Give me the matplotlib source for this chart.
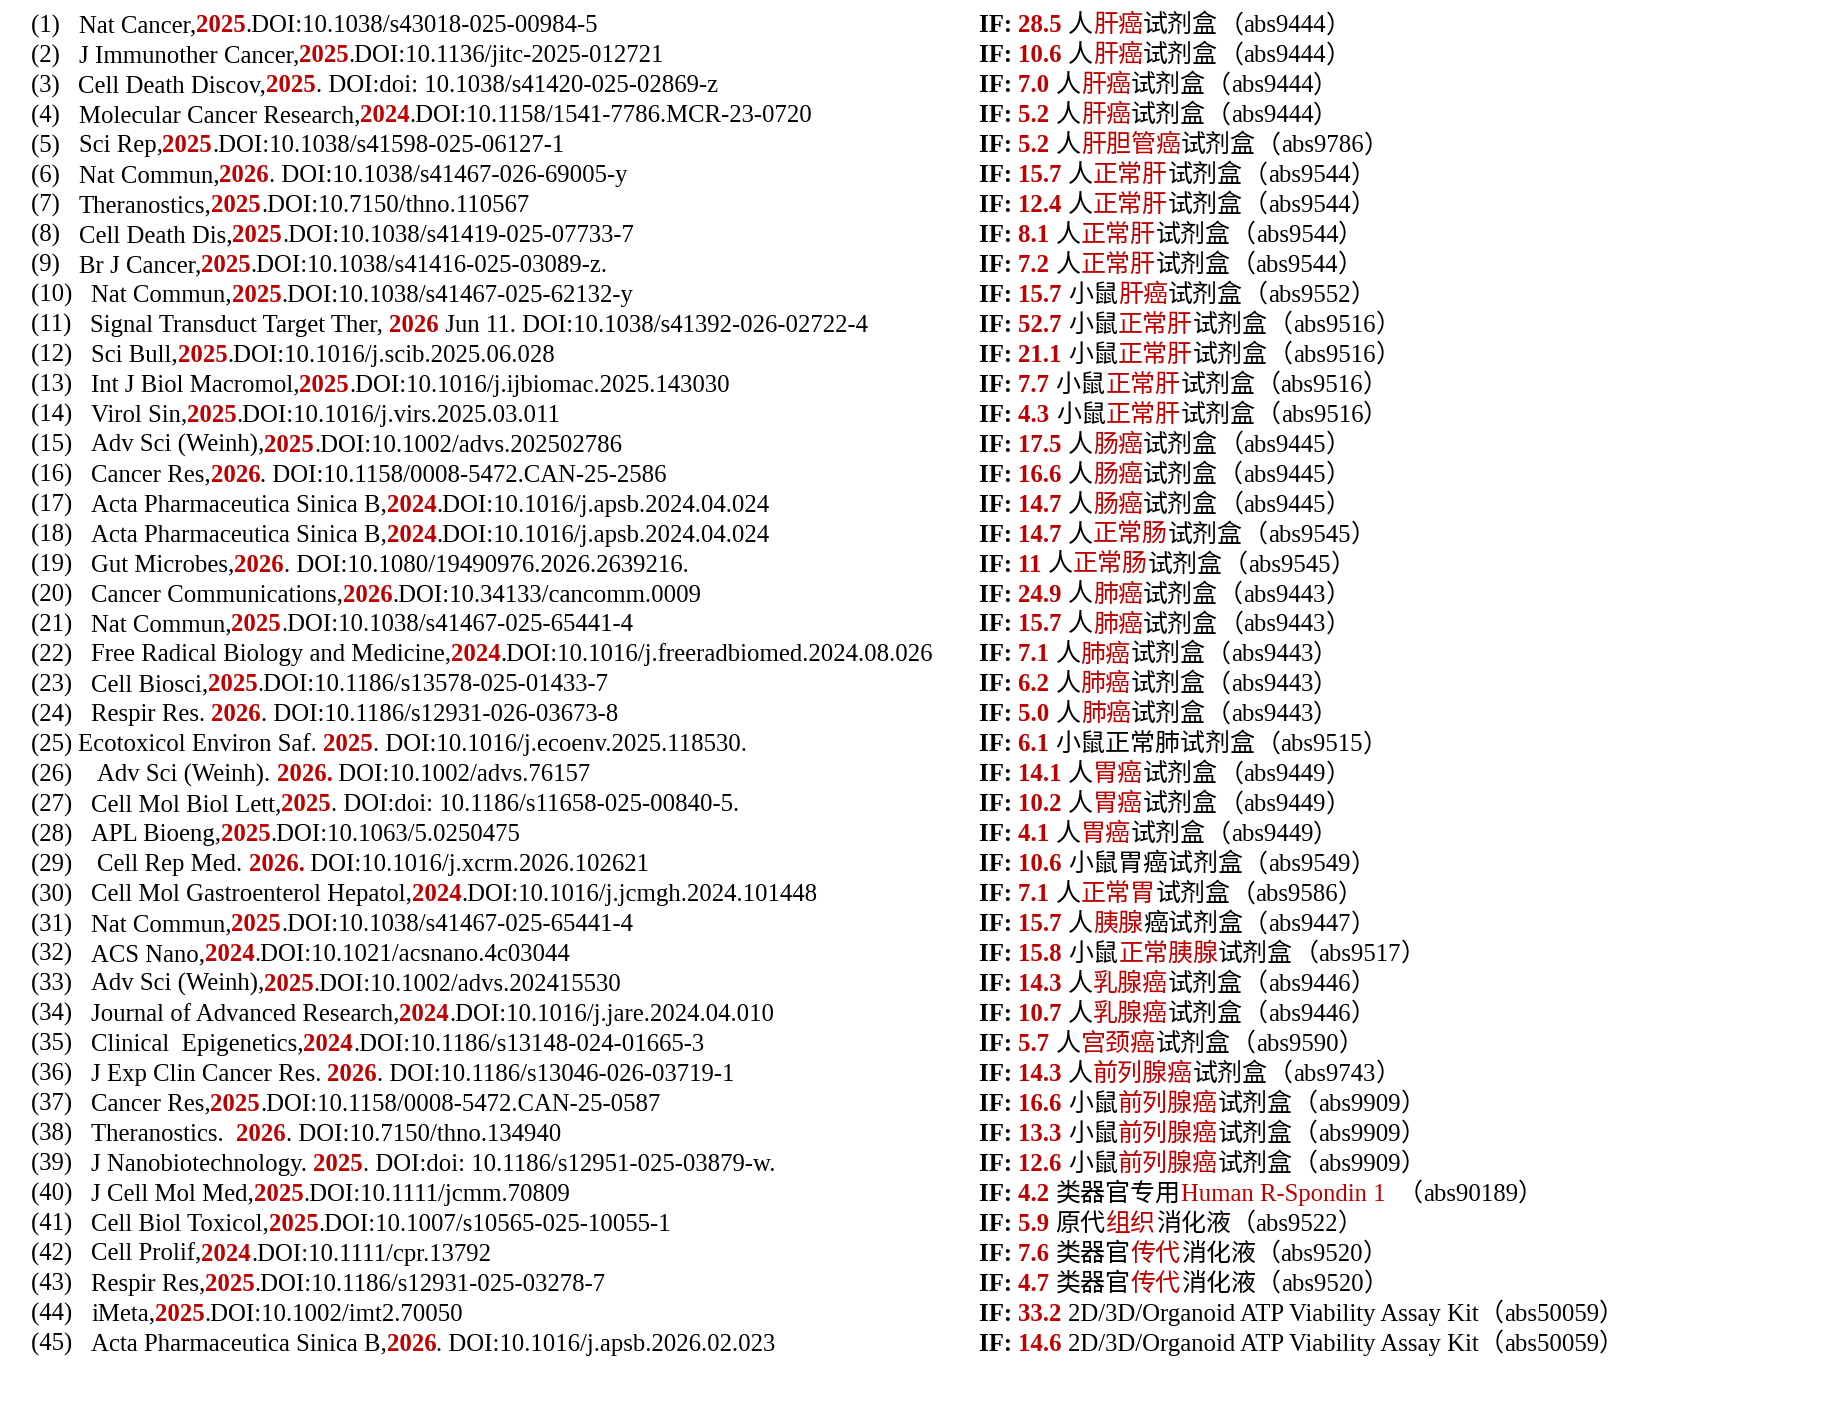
import matplotlib.pyplot as plt
from matplotlib.font_manager import FontProperties

# Left column: journal, year (red), rest of citation
journals = [
    "Nat Cancer,", "J Immunother Cancer,", "Cell Death Discov,", "Molecular Cancer Research,",
    "Sci Rep,", "Nat Commun,", "Theranostics,", "Cell Death Dis,", "Br J Cancer,",
    "Nat Commun,", "Signal Transduct Target Ther, ", "Sci Bull,", "Int J Biol Macromol,",
    "Virol Sin,", "Adv Sci (Weinh),", "Cancer Res,", "Acta Pharmaceutica Sinica B,",
    "Acta Pharmaceutica Sinica B,", "Gut Microbes,", "Cancer Communications,", "Nat Commun,",
    "Free Radical Biology and Medicine,", "Cell Biosci,", "Respir Res. ", "Ecotoxicol Environ Saf. ",
    "Adv Sci (Weinh). ", "Cell Mol Biol Lett,", "APL Bioeng,", "Cell Rep Med. ",
    "Cell Mol Gastroenterol Hepatol,", "Nat Commun,", "ACS Nano,", "Adv Sci (Weinh),",
    "Journal of Advanced Research,", "Clinical  Epigenetics,", "J Exp Clin Cancer Res. ",
    "Cancer Res,", "Theranostics.  ", "J Nanobiotechnology. ", "J Cell Mol Med,",
    "Cell Biol Toxicol,", "Cell Prolif,", "Respir Res,", "iMeta,", "Acta Pharmaceutica Sinica B,",
]
years = [
    "2025", "2025", "2025", "2024", "2025", "2026", "2025", "2025", "2025",
    "2025", "2026", "2025", "2025", "2025", "2025", "2026", "2024", "2024",
    "2026", "2026", "2025", "2024", "2025", "2026", "2025", "2026.", "2025",
    "2025", "2026.", "2024", "2025", "2024", "2025", "2024", "2024", "2026",
    "2025", "2026", "2025", "2025", "2025", "2024", "2025", "2025", "2026",
]
dois = [
    ".DOI:10.1038/s43018-025-00984-5",
    ".DOI:10.1136/jitc-2025-012721",
    ". DOI:doi: 10.1038/s41420-025-02869-z",
    ".DOI:10.1158/1541-7786.MCR-23-0720",
    ".DOI:10.1038/s41598-025-06127-1",
    ". DOI:10.1038/s41467-026-69005-y",
    ".DOI:10.7150/thno.110567",
    ".DOI:10.1038/s41419-025-07733-7",
    ".DOI:10.1038/s41416-025-03089-z.",
    ".DOI:10.1038/s41467-025-62132-y",
    " Jun 11. DOI:10.1038/s41392-026-02722-4",
    ".DOI:10.1016/j.scib.2025.06.028",
    ".DOI:10.1016/j.ijbiomac.2025.143030",
    ".DOI:10.1016/j.virs.2025.03.011",
    ".DOI:10.1002/advs.202502786",
    ". DOI:10.1158/0008-5472.CAN-25-2586",
    ".DOI:10.1016/j.apsb.2024.04.024",
    ".DOI:10.1016/j.apsb.2024.04.024",
    ". DOI:10.1080/19490976.2026.2639216.",
    ".DOI:10.34133/cancomm.0009",
    ".DOI:10.1038/s41467-025-65441-4",
    ".DOI:10.1016/j.freeradbiomed.2024.08.026",
    ".DOI:10.1186/s13578-025-01433-7",
    ". DOI:10.1186/s12931-026-03673-8",
    ". DOI:10.1016/j.ecoenv.2025.118530.",
    " DOI:10.1002/advs.76157",
    ". DOI:doi: 10.1186/s11658-025-00840-5.",
    ".DOI:10.1063/5.0250475",
    " DOI:10.1016/j.xcrm.2026.102621",
    ".DOI:10.1016/j.jcmgh.2024.101448",
    ".DOI:10.1038/s41467-025-65441-4",
    ".DOI:10.1021/acsnano.4c03044",
    ".DOI:10.1002/advs.202415530",
    ".DOI:10.1016/j.jare.2024.04.010",
    ".DOI:10.1186/s13148-024-01665-3",
    ". DOI:10.1186/s13046-026-03719-1",
    ".DOI:10.1158/0008-5472.CAN-25-0587",
    ". DOI:10.7150/thno.134940",
    ". DOI:doi: 10.1186/s12951-025-03879-w.",
    ".DOI:10.1111/jcmm.70809",
    ".DOI:10.1007/s10565-025-10055-1",
    ".DOI:10.1111/cpr.13792",
    ".DOI:10.1186/s12931-025-03278-7",
    ".DOI:10.1002/imt2.70050",
    ". DOI:10.1016/j.apsb.2026.02.023",
]

# Right column: impact factor, product name (prefix / red part / suffix), catalog no.
impact = [
    "28.5", "10.6", "7.0", "5.2", "5.2", "15.7", "12.4", "8.1", "7.2",
    "15.7", "52.7", "21.1", "7.7", "4.3", "17.5", "16.6", "14.7", "14.7",
    "11", "24.9", "15.7", "7.1", "6.2", "5.0", "6.1", "14.1", "10.2",
    "4.1", "10.6", "7.1", "15.7", "15.8", "14.3", "10.7", "5.7", "14.3",
    "16.6", "13.3", "12.6", "4.2", "5.9", "7.6", "4.7", "33.2", "14.6",
]
kit_pre = (["人"] * 9 + ["小鼠"] * 5 + ["人"] * 10 + ["小鼠正常肺试剂盒"] + ["人"] * 3
           + ["小鼠胃癌试剂盒", "人", "人", "小鼠", "人", "人", "人", "人",
              "小鼠", "小鼠", "小鼠", "类器官专用", "原代", "类器官", "类器官",
              "2D/3D/Organoid ATP Viability Assay Kit", "2D/3D/Organoid ATP Viability Assay Kit"])
kit_red = [
    "肝癌", "肝癌", "肝癌", "肝癌", "肝胆管癌", "正常肝", "正常肝", "正常肝", "正常肝",
    "肝癌", "正常肝", "正常肝", "正常肝", "正常肝", "肠癌", "肠癌", "肠癌", "正常肠",
    "正常肠", "肺癌", "肺癌", "肺癌", "肺癌", "肺癌", "", "胃癌", "胃癌",
    "胃癌", "", "正常胃", "胰腺", "正常胰腺", "乳腺癌", "乳腺癌", "宫颈癌", "前列腺癌",
    "前列腺癌", "前列腺癌", "前列腺癌", "Human R-Spondin 1", "组织", "传代", "传代", "", "",
]
kit_post = (["试剂盒"] * 24 + [""] + ["试剂盒"] * 3 + [""] + ["试剂盒", "癌试剂盒"]
            + ["试剂盒"] * 8 + ["  ", "消化液", "消化液", "消化液", "", ""])
catalog = [
    "abs9444", "abs9444", "abs9444", "abs9444", "abs9786", "abs9544", "abs9544", "abs9544", "abs9544",
    "abs9552", "abs9516", "abs9516", "abs9516", "abs9516", "abs9445", "abs9445", "abs9445", "abs9545",
    "abs9545", "abs9443", "abs9443", "abs9443", "abs9443", "abs9443", "abs9515", "abs9449", "abs9449",
    "abs9449", "abs9549", "abs9586", "abs9447", "abs9517", "abs9446", "abs9446", "abs9590", "abs9743",
    "abs9909", "abs9909", "abs9909", "abs90189", "abs9522", "abs9520", "abs9520", "abs50059", "abs50059",
]
num_gap = {25: " ", 26: "    ", 29: "    "}

W, H = 1833, 1409
RED = "#C00000"
fs = 17.85
latin = FontProperties(family="Liberation Serif", size=fs)
latin_b = FontProperties(family="Liberation Serif", size=fs, weight="bold")
cjk = FontProperties(family="Noto Sans CJK SC", size=18)

fig = plt.figure(figsize=(W / 100, H / 100), dpi=100)
fig.patch.set_facecolor("white")
renderer = fig.canvas.get_renderer()


def width(s, prop):
    # advance width: measure between two bars so side bearings cancel out
    w2 = renderer.get_text_width_height_descent("||", prop, False)[0]
    w = renderer.get_text_width_height_descent("|" + s + "|", prop, False)[0]
    return w - w2


def runs(s):
    # split a string into latin / CJK pieces so each one uses a single font
    out = []
    for c in s:
        kind = ord(c) > 0x2E80
        if out and out[-1][0] == kind:
            out[-1][1] += c
        else:
            out.append([kind, c])
    return out


def put(x, y, s, prop, color="black"):
    for is_cjk, piece in runs(s):
        p = cjk if is_cjk else prop
        if piece.strip():
            fig.text(x / W, 1 - y / H, piece, fontproperties=p, color=color,
                     ha="left", va="baseline")
        x += width(piece, p)
    return x


for i in range(len(journals)):
    n = i + 1
    y = 32.3 + 29.96 * i
    # left column
    x = put(31, y, f"({n})" + num_gap.get(n, "   "), latin)
    x = put(x, y, journals[i], latin)
    x = put(x, y, years[i], latin_b, RED)
    put(x, y, dois[i], latin)
    # right column
    x = put(979, y, "IF: ", latin_b)
    x = put(x, y, impact[i] + " ", latin_b, RED)
    x = put(x, y, kit_pre[i], latin)
    x = put(x, y, kit_red[i], latin, RED)
    x = put(x, y, kit_post[i], latin)
    put(x, y, "（" + catalog[i] + "）", latin)

fig.savefig("out.png", dpi=100, facecolor="white")
